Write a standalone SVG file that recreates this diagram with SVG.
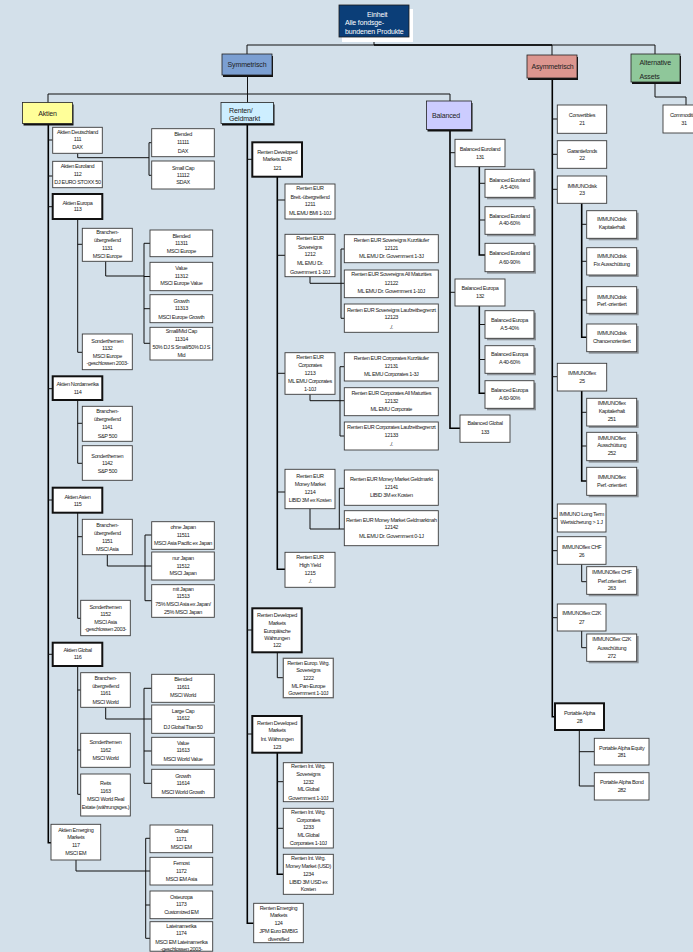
<svg xmlns="http://www.w3.org/2000/svg" width="693" height="952" viewBox="0 0 693 952">
<style>
.bg{fill:#d3e0ea}
.b{fill:#fff;stroke:#3a3a3a;stroke-width:0.9}
.bk{fill:#fff;stroke:#111;stroke-width:2}
.sh{fill:#8f959b}
.t{font-family:"Liberation Sans",Arial,sans-serif;font-size:5.5px;letter-spacing:-0.35px;fill:#1a1a1a;text-anchor:middle}
.h{font-family:"Liberation Sans",Arial,sans-serif;font-size:7px;letter-spacing:-0.15px;fill:#222}
.c{fill:none;stroke:#111;stroke-width:1}
.ct{fill:none;stroke:#000;stroke-width:1.6}
</style>
<rect class="bg" x="0" y="0" width="693" height="952"/>
<g id="connectors">
<path class="c" d="M374,37V45M247,45H655M247,45V54M552,45V55M655,45V54"/>
<path class="ct" d="M374,45H552"/>
<path class="c" d="M247.5,75V94M48,94H450M48,94V102.5M247.5,94V102.5M450,94V101"/>
<path class="c" d="M655,82V97H686V105"/>
<path class="ct" d="M48.3,124V842.7H51"/>
<path class="c" d="M48.3,140H52.7M48.3,176H52.7M48.3,206.7H52.7M48.3,388.7H52.7M48.3,500H52.7M48.3,654.3H52.7"/>
<path class="c" d="M77.7,153.3V157.7H149M149,142.7V175.3M149,142.7H151.7M149,175.3H151.7"/>
<path class="c" d="M77.7,219V352.3H82.3M77.7,244.3H82.3"/>
<path class="c" d="M105.7,261.3V276H144M144,243.3V343.3M144,243.3H150M144,276.5H150M144,308.7H150M144,343.3H150"/>
<path class="c" d="M77.7,400V463.3H82.3M77.7,423.3H82.3"/>
<path class="c" d="M77.7,512.7V618.3H80.7M77.7,536.7H82.3"/>
<path class="c" d="M107.3,554.7V566H145M145,535V600.7M145,535H151.7M145,566H151.7M145,600.7H151.7"/>
<path class="c" d="M77.7,666V794.3H80.7M77.7,690H80.7M77.7,750H80.7"/>
<path class="c" d="M105.7,707.3V719H144M144,688.3V783.3M144,688.3H151.7M144,719H151.7M144,751H151.7M144,783.3H151.7"/>
<path class="c" d="M76,860V871H145.7M145.7,838.3V938.3M145.7,838.3H150M145.7,871H150M145.7,905H150M145.7,938.3H150"/>
<path class="ct" d="M247.3,124V923.3H253.7"/>
<path class="c" d="M247.3,159.3H252.3M247.3,630H252.3M247.3,734H252.3"/>
<path class="ct" d="M277.3,176.7V569.3H285"/>
<path class="c" d="M277.3,200H285M277.3,255.3H285M277.3,373.3H285M277.3,492H285"/>
<path class="c" d="M310,276.7V283.3H341M341,249V318.3M341,249H344.3M341,283.3H344.3M341,318.3H344.3"/>
<path class="c" d="M310,394.3V400.7H340M340,366.7V436M340,366.7H344.3M340,400.7H344.3M340,436H344.3"/>
<path class="c" d="M310,508.7V529H344.3M339.3,488.3V529M339.3,488.3H344.3"/>
<path class="c" d="M277.3,652.3V677.7H283.3"/>
<path class="ct" d="M277.3,752.7V874.3H283.3"/>
<path class="c" d="M277.3,781.7H283.3M277.3,828.3H283.3"/>
<path class="ct" d="M450,129.5V428.3H460"/>
<path class="c" d="M450,152.7H455M450,292.3H455"/>
<path class="ct" d="M479.3,166.7V255H485"/>
<path class="c" d="M479.3,183.3H485M479.3,220H485"/>
<path class="ct" d="M479.3,306V393.3H485"/>
<path class="c" d="M479.3,324.5H485M479.3,359.5H485"/>
<path class="ct" d="M552.3,78V716.7H555"/>
<path class="c" d="M552.3,119H557.3M552.3,154.3H557.3M552.3,189.3H557.3M552.3,376.7H557.3M552.3,518.3H557.3M552.3,550.7H557.3M552.3,617.7H557.3"/>
<path class="ct" d="M581.7,203.3V337.3H586.7"/>
<path class="c" d="M581.7,224.3H586.7M581.7,261.3H586.7M581.7,300H586.7"/>
<path class="ct" d="M581.7,391V481H586.7"/>
<path class="c" d="M581.7,412.3H586.7M581.7,446H586.7"/>
<path class="c" d="M581.7,564.3V581.7H586.7M581.7,631V647.7H586.7"/>
<path class="c" d="M579.3,730V786H594.3M579.3,751.7H594.3"/>
</g>
<g id="n0"><rect x="342" y="9" width="71" height="33" fill="#fff"/><rect x="339" y="5" width="70" height="32" fill="#0b3e78" stroke="#1a1a1a" stroke-width="0.8"/>
<text class="h" style="fill:#fff"><tspan x="367" y="17">Einheit</tspan><tspan x="345" y="24.6">Alle fondsge-</tspan><tspan x="345" y="34.3">bundenen Produkte</tspan></text></g>
<g id="n1"><rect x="223" y="56" width="50" height="21" fill="#111"/><rect x="222" y="54" width="50" height="21" fill="#7b9fd2" stroke="#222" stroke-width="0.8"/><text class="h" x="247" y="66.5" text-anchor="middle">Symmetrisch</text></g>
<g id="n2"><rect x="528" y="57" width="50" height="23" fill="#111"/><rect x="527" y="55" width="50" height="23" fill="#dc968f" stroke="#222" stroke-width="0.8"/><text class="h" x="552.5" y="68.5" text-anchor="middle">Asymmetrisch</text></g>
<g id="n3"><rect x="632" y="56" width="49" height="28" fill="#111"/><rect x="631" y="54" width="49" height="28" fill="#8fc79a" stroke="#222" stroke-width="0.8"/><text class="h"><tspan x="639.5" y="65">Alternative</tspan><tspan x="639.5" y="79">Assets</tspan></text></g>
<g id="n4"><rect x="23.5" y="104.5" width="50" height="21" fill="#111"/><rect x="22.5" y="102.5" width="50" height="21" fill="#ffff99" stroke="#222" stroke-width="0.8"/><text class="h" x="47.5" y="116" text-anchor="middle">Aktien</text></g>
<g id="n5"><rect x="222" y="104.5" width="52.5" height="21" fill="#111"/><rect x="221" y="102.5" width="52.5" height="21" fill="#cdeeff" stroke="#222" stroke-width="0.8"/><text class="h"><tspan x="229" y="113.3">Renten/</tspan><tspan x="229" y="121.3">Geldmarkt</tspan></text></g>
<g id="n6"><rect x="427.5" y="103" width="45" height="28.5" fill="#111"/><rect x="426.5" y="101" width="45" height="28.5" fill="#ccccff" stroke="#222" stroke-width="0.8"/><text class="h" x="432" y="118">Balanced</text></g>
<g id="n31"><rect class="b" x="663" y="105" width="42" height="28"/><text class="t"><tspan x="684" y="117">Commodities</tspan><tspan x="684" y="124.7">31</tspan></text></g>
<g id="n111"><rect class="b" x="52.7" y="127.3" width="49.6" height="26"/><text class="t"><tspan x="77.5" y="133.7">Aktien Deutschland</tspan><tspan x="77.5" y="141.3">111</tspan><tspan x="77.5" y="149.3">DAX</tspan></text></g>
<g id="n11111"><rect class="b" x="151.7" y="128.7" width="62.6" height="28"/><text class="t"><tspan x="183" y="136.3">Blended</tspan><tspan x="183" y="144.3">11111</tspan><tspan x="183" y="152.7">DAX</tspan></text></g>
<g id="n11112"><rect class="b" x="151.7" y="161" width="62.6" height="28"/><text class="t"><tspan x="183" y="169.7">Small Cap</tspan><tspan x="183" y="177">11112</tspan><tspan x="183" y="184.3">SDAX</tspan></text></g>
<g id="n112"><rect class="b" x="52.7" y="161.3" width="49.6" height="26.4"/><text class="t"><tspan x="77.5" y="168.3">Aktien Euroland</tspan><tspan x="77.5" y="176.3">112</tspan><tspan x="77.5" y="184.3">DJ EURO STOXX 50</tspan></text></g>
<g id="n113"><rect class="bk" x="52.7" y="194" width="49.6" height="25"/><text class="t"><tspan x="77.5" y="204.7">Aktien Europa</tspan><tspan x="77.5" y="211.3">113</tspan></text></g>
<g id="n1131"><rect class="b" x="82.3" y="228.3" width="50" height="33"/><text class="t"><tspan x="107.3" y="234.3">Branchen-</tspan><tspan x="107.3" y="242.3">übergreifend</tspan><tspan x="107.3" y="250.3">1131</tspan><tspan x="107.3" y="258.3">MSCI Europe</tspan></text></g>
<g id="n11311"><rect class="b" x="150" y="230" width="62.7" height="26.7"/><text class="t"><tspan x="181.3" y="237.7">Blended</tspan><tspan x="181.3" y="244.7">11311</tspan><tspan x="181.3" y="252.7">MSCI Europe</tspan></text></g>
<g id="n11312"><rect class="b" x="150" y="262.3" width="62.7" height="28.4"/><text class="t"><tspan x="181.3" y="270.3">Value</tspan><tspan x="181.3" y="277.7">11312</tspan><tspan x="181.3" y="285.3">MSCI Europe Value</tspan></text></g>
<g id="n11313"><rect class="b" x="150" y="294.7" width="62.7" height="28"/><text class="t"><tspan x="181.3" y="302.7">Growth</tspan><tspan x="181.3" y="310.3">11313</tspan><tspan x="181.3" y="318.7">MSCI Europe Growth</tspan></text></g>
<g id="n11314"><rect class="b" x="150" y="327.3" width="62.7" height="32.7"/><text class="t"><tspan x="181.3" y="333.3">Small/Mid Cap</tspan><tspan x="181.3" y="341.3">11314</tspan><tspan x="181.3" y="348.7">50% DJ S Small/50% DJ S</tspan><tspan x="181.3" y="356.7">Mid</tspan></text></g>
<g id="n1132"><rect class="b" x="82.3" y="334" width="50" height="35.7"/><text class="t"><tspan x="107.3" y="342.7">Sonderthemen</tspan><tspan x="107.3" y="349.7">1132</tspan><tspan x="107.3" y="357.7">MSCI Europe</tspan><tspan x="107.3" y="365.3">-geschlossen 2003-</tspan></text></g>
<g id="n114"><rect class="bk" x="52.7" y="376.3" width="49.6" height="23.7"/><text class="t"><tspan x="77.5" y="385.7">Aktien Nordamerika</tspan><tspan x="77.5" y="393.7">114</tspan></text></g>
<g id="n1141"><rect class="b" x="82.3" y="406.3" width="50" height="35"/><text class="t"><tspan x="107.3" y="413">Branchen-</tspan><tspan x="107.3" y="421.3">übergreifend</tspan><tspan x="107.3" y="429.3">1141</tspan><tspan x="107.3" y="437.7">S&amp;P 500</tspan></text></g>
<g id="n1142"><rect class="b" x="82.3" y="445.7" width="50" height="34.6"/><text class="t"><tspan x="107.3" y="457.7">Sonderthemen</tspan><tspan x="107.3" y="465.3">1142</tspan><tspan x="107.3" y="472.7">S&amp;P 500</tspan></text></g>
<g id="n115"><rect class="bk" x="52.7" y="487.7" width="49.6" height="25"/><text class="t"><tspan x="77.5" y="498.7">Aktien Asien</tspan><tspan x="77.5" y="505.7">115</tspan></text></g>
<g id="n1151"><rect class="b" x="82.3" y="519.3" width="50" height="35.4"/><text class="t"><tspan x="107.3" y="526.7">Branchen-</tspan><tspan x="107.3" y="535.3">übergreifend</tspan><tspan x="107.3" y="542.7">1151</tspan><tspan x="107.3" y="550.7">MSCI Asia</tspan></text></g>
<g id="n11511"><rect class="b" x="151.7" y="521.7" width="62.6" height="27.6"/><text class="t"><tspan x="183" y="529.3">ohne Japan</tspan><tspan x="183" y="537.3">11511</tspan><tspan x="183" y="544.7">MSCI Asia Pacific ex Japan</tspan></text></g>
<g id="n11512"><rect class="b" x="151.7" y="552" width="62.6" height="28"/><text class="t"><tspan x="183" y="559.7">nur Japan</tspan><tspan x="183" y="567.7">11512</tspan><tspan x="183" y="575.3">MSCI Japan</tspan></text></g>
<g id="n11513"><rect class="b" x="151.7" y="584.7" width="62.6" height="32.6"/><text class="t"><tspan x="183" y="590.7">mit Japan</tspan><tspan x="183" y="598.3">11513</tspan><tspan x="183" y="606.3">75% MSCI Asia ex Japan/</tspan><tspan x="183" y="614.3">25% MSCI Japan</tspan></text></g>
<g id="n1152"><rect class="b" x="80.7" y="600.3" width="49.6" height="35.4"/><text class="t"><tspan x="105.5" y="608.7">Sonderthemen</tspan><tspan x="105.5" y="616">1152</tspan><tspan x="105.5" y="623.7">MSCI Asia</tspan><tspan x="105.5" y="631.3">-geschlossen 2003-</tspan></text></g>
<g id="n116"><rect class="bk" x="52.7" y="642.7" width="49.6" height="23.3"/><text class="t"><tspan x="77.5" y="651.7">Aktien Global</tspan><tspan x="77.5" y="659.3">116</tspan></text></g>
<g id="n1161"><rect class="b" x="80.7" y="672.7" width="49.6" height="34.6"/><text class="t"><tspan x="105.5" y="680">Branchen-</tspan><tspan x="105.5" y="687.7">übergreifend</tspan><tspan x="105.5" y="695.3">1161</tspan><tspan x="105.5" y="703.7">MSCI World</tspan></text></g>
<g id="n11611"><rect class="b" x="151.7" y="674.3" width="62.6" height="28"/><text class="t"><tspan x="183" y="681.3">Blended</tspan><tspan x="183" y="689.3">11611</tspan><tspan x="183" y="697.3">MSCI World</tspan></text></g>
<g id="n11612"><rect class="b" x="151.7" y="705" width="62.6" height="28.3"/><text class="t"><tspan x="183" y="712.7">Large Cap</tspan><tspan x="183" y="720.3">11612</tspan><tspan x="183" y="728.7">DJ Global Titan 50</tspan></text></g>
<g id="n11613"><rect class="b" x="151.7" y="737.3" width="62.6" height="27.7"/><text class="t"><tspan x="183" y="744.7">Value</tspan><tspan x="183" y="752.3">11613</tspan><tspan x="183" y="760.7">MSCI World Value</tspan></text></g>
<g id="n11614"><rect class="b" x="151.7" y="769.3" width="62.6" height="28.4"/><text class="t"><tspan x="183" y="777.7">Growth</tspan><tspan x="183" y="785.3">11614</tspan><tspan x="183" y="793.7">MSCI World Growth</tspan></text></g>
<g id="n1162"><rect class="b" x="80.7" y="733.3" width="49.6" height="34"/><text class="t"><tspan x="105.5" y="743.7">Sonderthemen</tspan><tspan x="105.5" y="751.7">1162</tspan><tspan x="105.5" y="759.7">MSCI World</tspan></text></g>
<g id="n1163"><rect class="b" x="80.7" y="774" width="49.6" height="42"/><text class="t"><tspan x="105.5" y="785.3">Reits</tspan><tspan x="105.5" y="793.3">1163</tspan><tspan x="105.5" y="800.7">MSCI World Real</tspan><tspan x="105.5" y="808.7">Estate (währungsges.)</tspan></text></g>
<g id="n117"><rect class="b" x="51" y="824.3" width="49.7" height="35.7"/><text class="t"><tspan x="75.8" y="831.7">Aktien Emerging</tspan><tspan x="75.8" y="839.3">Markets</tspan><tspan x="75.8" y="847.3">117</tspan><tspan x="75.8" y="855.3">MSCI EM</tspan></text></g>
<g id="n1171"><rect class="b" x="150" y="825" width="62.7" height="27.7"/><text class="t"><tspan x="181.3" y="832.7">Global</tspan><tspan x="181.3" y="840.7">1171</tspan><tspan x="181.3" y="848.7">MSCI EM</tspan></text></g>
<g id="n1172"><rect class="b" x="150" y="857.3" width="62.7" height="27.7"/><text class="t"><tspan x="181.3" y="864.7">Fernost</tspan><tspan x="181.3" y="872.7">1172</tspan><tspan x="181.3" y="880.7">MSCI EM Asia</tspan></text></g>
<g id="n1173"><rect class="b" x="150" y="891" width="62.7" height="27.7"/><text class="t"><tspan x="181.3" y="898.7">Osteuropa</tspan><tspan x="181.3" y="906.3">1173</tspan><tspan x="181.3" y="913.7">Customized EM</tspan></text></g>
<g id="n1174"><rect class="b" x="150" y="921.7" width="62.7" height="29.5"/><text class="t"><tspan x="181.3" y="927.7">Lateinamerika</tspan><tspan x="181.3" y="935.3">1174</tspan><tspan x="181.3" y="943.7">MSCI EM Lateinamerika</tspan><tspan x="181.3" y="951.3">-geschlossen 2003-</tspan></text></g>
<g id="n121"><rect class="bk" x="252.3" y="142.3" width="49.7" height="34.4"/><text class="t"><tspan x="277.2" y="154">Renten Developed</tspan><tspan x="277.2" y="161.3">Markets EUR</tspan><tspan x="277.2" y="169.7">121</tspan></text></g>
<g id="n1211"><rect class="b" x="285" y="184" width="50" height="35"/><text class="t"><tspan x="310" y="190.3">Renten EUR</tspan><tspan x="310" y="198.7">Breit.-übergreifend</tspan><tspan x="310" y="206.3">1211</tspan><tspan x="310" y="214.7">ML EMU BMI 1-10J</tspan></text></g>
<g id="n1212"><rect class="b" x="285" y="234.3" width="50" height="42.4"/><text class="t"><tspan x="310" y="240.3">Renten EUR</tspan><tspan x="310" y="248.7">Sovereigns</tspan><tspan x="310" y="256">1212</tspan><tspan x="310" y="264.7">ML EMU Dr.</tspan><tspan x="310" y="273.7">Government 1-10J</tspan></text></g>
<g id="n12121"><rect class="b" x="344.3" y="234.7" width="94" height="28"/><text class="t"><tspan x="391.3" y="242">Renten EUR Sovereigns Kurzläufer</tspan><tspan x="391.3" y="249.7">12121</tspan><tspan x="391.3" y="257.7">ML EMU Dr. Government 1-3J</tspan></text></g>
<g id="n12122"><rect class="b" x="344.3" y="270" width="94" height="27.7"/><text class="t"><tspan x="391.3" y="276">Renten EUR Sovereigns All Maturities</tspan><tspan x="391.3" y="284.7">12122</tspan><tspan x="391.3" y="292.7">ML EMU Dr. Government 1-10J</tspan></text></g>
<g id="n12123"><rect class="b" x="344.3" y="304" width="94" height="28.3"/><text class="t"><tspan x="391.3" y="312">Renten EUR Sovereigns Laufzeitbegrenzt</tspan><tspan x="391.3" y="319">12123</tspan><tspan x="391.3" y="328.7">./.</tspan></text></g>
<g id="n1213"><rect class="b" x="285" y="352.7" width="50" height="41.6"/><text class="t"><tspan x="310" y="359">Renten EUR</tspan><tspan x="310" y="366.7">Corporates</tspan><tspan x="310" y="375.3">1213</tspan><tspan x="310" y="382.7">ML EMU Corporates</tspan><tspan x="310" y="390.7">1-10J</tspan></text></g>
<g id="n12131"><rect class="b" x="344.3" y="352.7" width="94" height="28.3"/><text class="t"><tspan x="391.3" y="360">Renten EUR Corporates Kurzläufer</tspan><tspan x="391.3" y="368.3">12131</tspan><tspan x="391.3" y="376.3">ML EMU Corporates 1-3J</tspan></text></g>
<g id="n12132"><rect class="b" x="344.3" y="387.7" width="94" height="28"/><text class="t"><tspan x="391.3" y="395.3">Renten EUR Corporates All Maturities</tspan><tspan x="391.3" y="402.7">12132</tspan><tspan x="391.3" y="410.7">ML EMU Corporate</tspan></text></g>
<g id="n12133"><rect class="b" x="344.3" y="422" width="94" height="28"/><text class="t"><tspan x="391.3" y="429.3">Renten EUR Corporates Laufzeitbegrenzt</tspan><tspan x="391.3" y="437.3">12133</tspan><tspan x="391.3" y="446">./.</tspan></text></g>
<g id="n1214"><rect class="b" x="285" y="469.3" width="50" height="39.4"/><text class="t"><tspan x="310" y="477.7">Renten EUR</tspan><tspan x="310" y="486">Money Market</tspan><tspan x="310" y="494">1214</tspan><tspan x="310" y="502">LIBID 3M ex Kosten</tspan></text></g>
<g id="n12141"><rect class="b" x="344.3" y="470" width="94" height="35.3"/><text class="t"><tspan x="391.3" y="481.3">Renten EUR Money Market Geldmarkt</tspan><tspan x="391.3" y="489.3">12141</tspan><tspan x="391.3" y="497.3">LIBID 3M ex Kosten</tspan></text></g>
<g id="n12142"><rect class="b" x="344.3" y="510.7" width="94" height="35"/><text class="t"><tspan x="391.3" y="522">Renten EUR Money Market Geldmarktnah</tspan><tspan x="391.3" y="529.3">12142</tspan><tspan x="391.3" y="537.7">ML EMU Dr. Government 0-1J</tspan></text></g>
<g id="n1215"><rect class="b" x="285" y="552.3" width="50" height="35"/><text class="t"><tspan x="310" y="559.3">Renten EUR</tspan><tspan x="310" y="567">High Yield</tspan><tspan x="310" y="575.3">1215</tspan><tspan x="310" y="583.3">./.</tspan></text></g>
<g id="n122"><rect class="bk" x="252.3" y="608.3" width="49.4" height="44"/><text class="t"><tspan x="277" y="616.7">Renten Developed</tspan><tspan x="277" y="624.7">Markets</tspan><tspan x="277" y="632.7">Europäische</tspan><tspan x="277" y="640">Währungen</tspan><tspan x="277" y="647.3">122</tspan></text></g>
<g id="n1222"><rect class="b" x="283.3" y="658.3" width="50" height="39.4" style="stroke:#666;stroke-width:1.3"/><text class="t"><tspan x="308.3" y="664.7">Renten Europ. Wrg.</tspan><tspan x="308.3" y="672.3">Sovereigns</tspan><tspan x="308.3" y="680.3">1222</tspan><tspan x="308.3" y="687.7">ML Pan-Europe</tspan><tspan x="308.3" y="695.3">Government 1-10J</tspan></text></g>
<g id="n123"><rect class="bk" x="252.3" y="716" width="49.4" height="36.7"/><text class="t"><tspan x="277" y="724.7">Renten Developed</tspan><tspan x="277" y="732">Markets</tspan><tspan x="277" y="740.7">Int. Währungen</tspan><tspan x="277" y="748.7">123</tspan></text></g>
<g id="n1232"><rect class="b" x="283.3" y="762.7" width="50" height="39"/><text class="t"><tspan x="308.3" y="768">Renten Int. Wrg.</tspan><tspan x="308.3" y="776">Sovereigns</tspan><tspan x="308.3" y="783.7">1232</tspan><tspan x="308.3" y="791.3">ML Global</tspan><tspan x="308.3" y="799.7">Government 1-10J</tspan></text></g>
<g id="n1233"><rect class="b" x="283.3" y="808.3" width="50" height="39.7"/><text class="t"><tspan x="308.3" y="813.7">Renten Int. Wrg.</tspan><tspan x="308.3" y="821.7">Corporates</tspan><tspan x="308.3" y="829.3">1233</tspan><tspan x="308.3" y="837.3">ML Global</tspan><tspan x="308.3" y="845.3">Corporates 1-10J</tspan></text></g>
<g id="n1234"><rect class="b" x="283.3" y="854.3" width="50" height="40"/><text class="t"><tspan x="308.3" y="860.3">Renten Int. Wrg.</tspan><tspan x="308.3" y="868.3">Money Market (USD)</tspan><tspan x="308.3" y="875.7">1234</tspan><tspan x="308.3" y="883.7">LIBID 3M USD ex</tspan><tspan x="308.3" y="891.3">Kosten</tspan></text></g>
<g id="n124"><rect class="b" x="253.7" y="903.3" width="49.6" height="39.4"/><text class="t"><tspan x="278.5" y="909.7">Renten Emerging</tspan><tspan x="278.5" y="917">Markets</tspan><tspan x="278.5" y="924.7">124</tspan><tspan x="278.5" y="932.7">JPM Euro EMBIG</tspan><tspan x="278.5" y="940.7">diversified</tspan></text></g>
<g id="n131"><rect class="b" x="455" y="139.3" width="50" height="27.4"/><text class="t"><tspan x="480" y="151.3">Balanced Euroland</tspan><tspan x="480" y="158.7">131</tspan></text></g>
<g id="n1311"><rect class="sh" x="487" y="171.3" width="49" height="28"/><rect class="b" x="485" y="169.3" width="49" height="28"/><text class="t"><tspan x="509.5" y="181.7">Balanced Euroland</tspan><tspan x="509.5" y="189.3">A 5-40%</tspan></text></g>
<g id="n1312"><rect class="sh" x="487" y="208.7" width="49" height="27.6"/><rect class="b" x="485" y="206.7" width="49" height="27.6"/><text class="t"><tspan x="509.5" y="217.7">Balanced Euroland</tspan><tspan x="509.5" y="225.3">A 40-60%</tspan></text></g>
<g id="n1313"><rect class="sh" x="487" y="245.3" width="49" height="28.4"/><rect class="b" x="485" y="243.3" width="49" height="28.4"/><text class="t"><tspan x="509.5" y="255.3">Balanced Euroland</tspan><tspan x="509.5" y="263.7">A 60-90%</tspan></text></g>
<g id="n132"><rect class="b" x="455" y="279" width="50" height="27"/><text class="t"><tspan x="480" y="290.3">Balanced Europa</tspan><tspan x="480" y="298">132</tspan></text></g>
<g id="n1321"><rect class="sh" x="487" y="312.7" width="49" height="27.6"/><rect class="b" x="485" y="310.7" width="49" height="27.6"/><text class="t"><tspan x="509.5" y="322">Balanced Europa</tspan><tspan x="509.5" y="329.7">A 5-40%</tspan></text></g>
<g id="n1322"><rect class="sh" x="487" y="347.7" width="49" height="27.6"/><rect class="b" x="485" y="345.7" width="49" height="27.6"/><text class="t"><tspan x="509.5" y="356.3">Balanced Europa</tspan><tspan x="509.5" y="364.3">A 40-60%</tspan></text></g>
<g id="n1323"><rect class="sh" x="487" y="382.7" width="49" height="27.6"/><rect class="b" x="485" y="380.7" width="49" height="27.6"/><text class="t"><tspan x="509.5" y="392">Balanced Europa</tspan><tspan x="509.5" y="399.7">A 60-90%</tspan></text></g>
<g id="n133"><rect class="b" x="460" y="415" width="50" height="27.3"/><text class="t"><tspan x="485" y="425.3">Balanced Global</tspan><tspan x="485" y="433.7">133</tspan></text></g>
<g id="n21"><rect class="b" x="557.3" y="105" width="49.4" height="28.3"/><text class="t"><tspan x="582" y="117">Convertibles</tspan><tspan x="582" y="124.7">21</tspan></text></g>
<g id="n22"><rect class="b" x="557.3" y="140.7" width="49.4" height="27.6"/><text class="t"><tspan x="582" y="152.7">Garantiefonds</tspan><tspan x="582" y="160.3">22</tspan></text></g>
<g id="n23"><rect class="b" x="557.3" y="176" width="49.4" height="27.3"/><text class="t"><tspan x="582" y="187.7">IMMUNOdisk</tspan><tspan x="582" y="195.3">23</tspan></text></g>
<g id="n231"><rect class="sh" x="588.7" y="212.7" width="50" height="27.6"/><rect class="b" x="586.7" y="210.7" width="50" height="27.6"/><text class="t"><tspan x="611.7" y="221">IMMUNOdisk</tspan><tspan x="611.7" y="228.7">Kapitalerhalt</tspan></text></g>
<g id="n232"><rect class="sh" x="588.7" y="249.7" width="50" height="27.3"/><rect class="b" x="586.7" y="247.7" width="50" height="27.3"/><text class="t"><tspan x="611.7" y="258">IMMUNOdisk</tspan><tspan x="611.7" y="266">Fix Ausschüttung</tspan></text></g>
<g id="n233"><rect class="sh" x="588.7" y="288.7" width="50" height="26.6"/><rect class="b" x="586.7" y="286.7" width="50" height="26.6"/><text class="t"><tspan x="611.7" y="298.7">IMMUNOdisk</tspan><tspan x="611.7" y="306.3">Perf.-orientiert</tspan></text></g>
<g id="n234"><rect class="sh" x="588.7" y="326" width="50" height="27.7"/><rect class="b" x="586.7" y="324" width="50" height="27.7"/><text class="t"><tspan x="611.7" y="335.3">IMMUNOdisk</tspan><tspan x="611.7" y="343.3">Chancenorientiert</tspan></text></g>
<g id="n25"><rect class="b" x="557.3" y="363.3" width="49.4" height="27.7"/><text class="t"><tspan x="582" y="374.7">IMMUNOflex</tspan><tspan x="582" y="382.7">25</tspan></text></g>
<g id="n251"><rect class="sh" x="588.7" y="400.3" width="50" height="27.7"/><rect class="b" x="586.7" y="398.3" width="50" height="27.7"/><text class="t"><tspan x="611.7" y="405.3">IMMUNOflex</tspan><tspan x="611.7" y="413">Kapitalerhalt</tspan><tspan x="611.7" y="421">251</tspan></text></g>
<g id="n252"><rect class="sh" x="588.7" y="434.3" width="50" height="28.4"/><rect class="b" x="586.7" y="432.3" width="50" height="28.4"/><text class="t"><tspan x="611.7" y="439.7">IMMUNOflex</tspan><tspan x="611.7" y="447.3">Ausschüttung</tspan><tspan x="611.7" y="455.3">252</tspan></text></g>
<g id="n253"><rect class="sh" x="588.7" y="469.3" width="50" height="28"/><rect class="b" x="586.7" y="467.3" width="50" height="28"/><text class="t"><tspan x="611.7" y="478.7">IMMUNOflex</tspan><tspan x="611.7" y="486.7">Perf.-orientiert</tspan></text></g>
<g id="n24"><rect class="b" x="557.3" y="504" width="48.7" height="28"/><text class="t"><tspan x="581.6" y="516">IMMUNO Long Term</tspan><tspan x="581.6" y="523.7">Wertsicherung &gt; 1 J</tspan></text></g>
<g id="n26"><rect class="b" x="557.3" y="536.7" width="48.7" height="27.6"/><text class="t"><tspan x="581.6" y="548.7">IMMUNOflex CHF</tspan><tspan x="581.6" y="557">26</tspan></text></g>
<g id="n263"><rect class="sh" x="588.7" y="568.7" width="50" height="27.6"/><rect class="b" x="586.7" y="566.7" width="50" height="27.6"/><text class="t"><tspan x="611.7" y="574.3">IMMUNOflex CHF</tspan><tspan x="611.7" y="582.7">Perf.orientiert</tspan><tspan x="611.7" y="590.3">263</tspan></text></g>
<g id="n27"><rect class="b" x="557.3" y="604" width="48.7" height="27"/><text class="t"><tspan x="581.6" y="615.3">IMMUNOflex C2K</tspan><tspan x="581.6" y="623.7">27</tspan></text></g>
<g id="n272"><rect class="sh" x="588.7" y="636" width="50" height="27.3"/><rect class="b" x="586.7" y="634" width="50" height="27.3"/><text class="t"><tspan x="611.7" y="641.3">IMMUNOflex C2K</tspan><tspan x="611.7" y="649.7">Ausschüttung</tspan><tspan x="611.7" y="657.7">272</tspan></text></g>
<g id="n28"><rect class="bk" x="555" y="703.3" width="49" height="26.7"/><text class="t"><tspan x="579.5" y="714.7">Portable Alpha</tspan><tspan x="579.5" y="722.7">28</tspan></text></g>
<g id="n281"><rect class="b" x="594.3" y="738.3" width="54.7" height="26.7"/><text class="t"><tspan x="621.7" y="749.7">Portable Alpha Equity</tspan><tspan x="621.7" y="757.3">281</tspan></text></g>
<g id="n282"><rect class="b" x="594.3" y="772.7" width="54.7" height="27.3"/><text class="t"><tspan x="621.7" y="783.7">Portable Alpha Bond</tspan><tspan x="621.7" y="792">282</tspan></text></g>
</svg>
